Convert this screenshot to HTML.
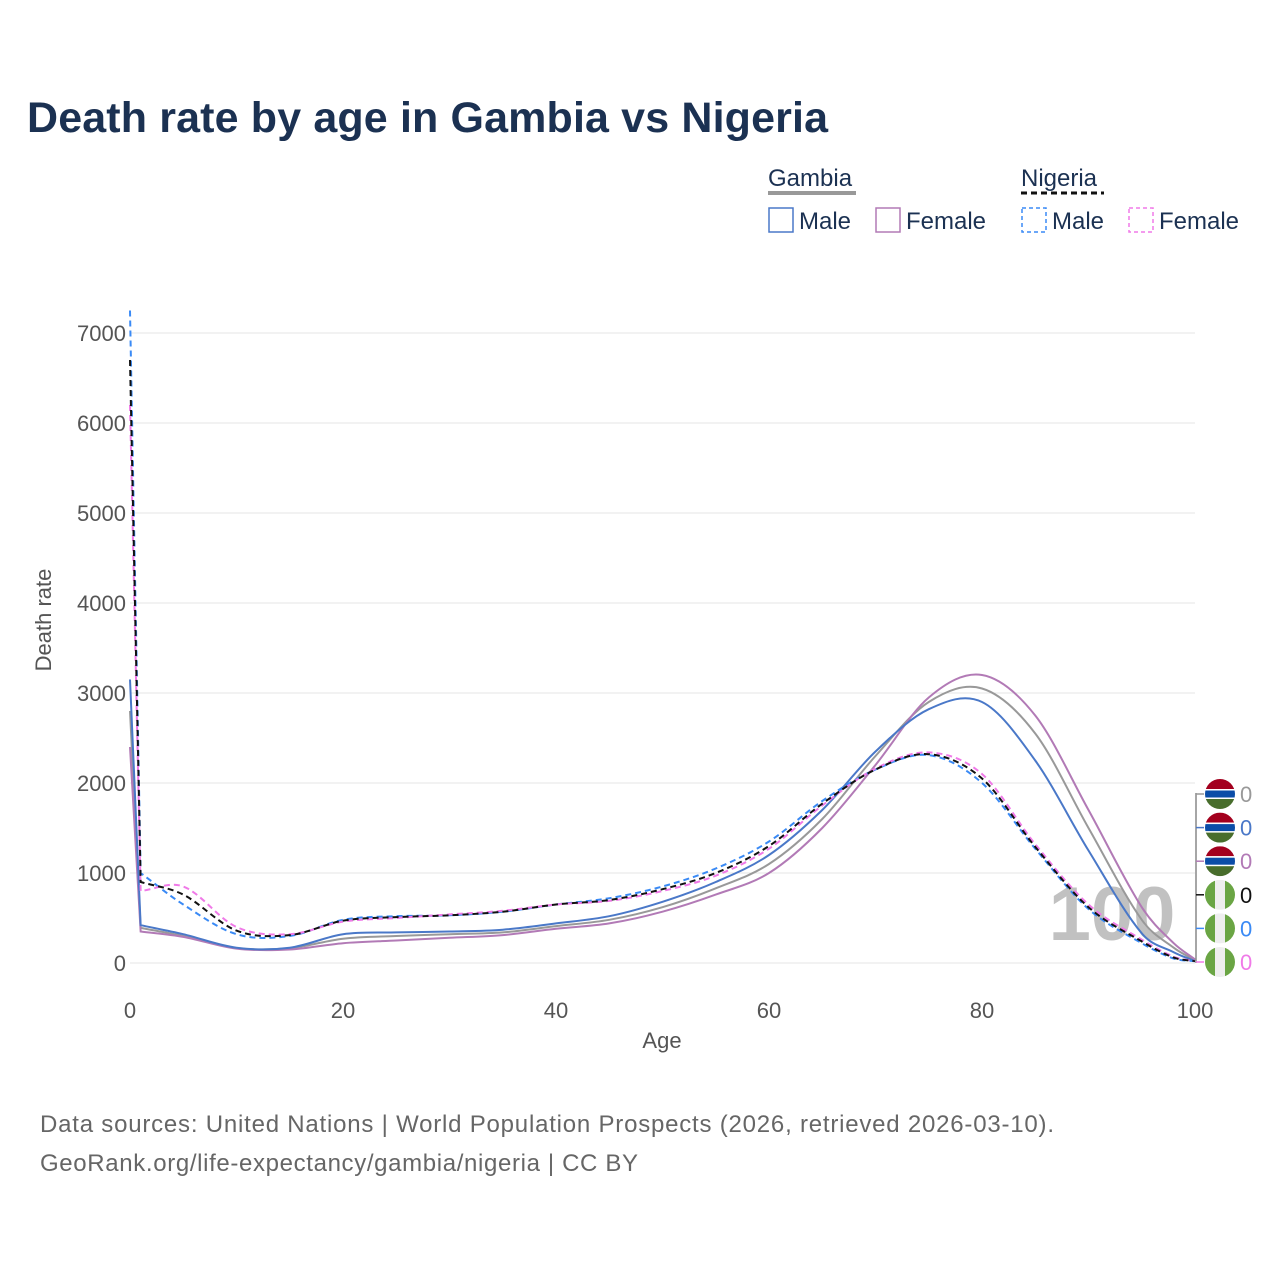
<!DOCTYPE html>
<html><head><meta charset="utf-8"><style>
body{margin:0;background:#fff;}
svg text{font-family:"Liberation Sans",sans-serif;}
</style></head><body>
<svg id="c" width="1280" height="1280" xmlns="http://www.w3.org/2000/svg">
<text x="27" y="132" font-size="43" font-weight="bold" fill="#1b3152" textLength="801">Death rate by age in Gambia vs Nigeria</text>
<g>
<text x="768" y="186" font-size="24" fill="#1b3152">Gambia</text>
<line x1="768" y1="193" x2="856" y2="193" stroke="#999" stroke-width="4"/>
<text x="1021" y="186" font-size="24" fill="#1b3152">Nigeria</text>
<line x1="1021" y1="193" x2="1104" y2="193" stroke="#111" stroke-width="3" stroke-dasharray="6,4"/>
<g><rect x="769" y="208" width="24" height="24" fill="none" stroke="#4a78c8" stroke-width="1.5"/><text x="799" y="229" font-size="24" fill="#1b3152">Male</text></g>
<g><rect x="876" y="208" width="24" height="24" fill="none" stroke="#b27ab6" stroke-width="1.5"/><text x="906" y="229" font-size="24" fill="#1b3152">Female</text></g>
<g><rect x="1022" y="208" width="24" height="24" fill="none" stroke="#3a8af5" stroke-width="1.5" stroke-dasharray="4,3"/><text x="1052" y="229" font-size="24" fill="#1b3152">Male</text></g>
<g><rect x="1129" y="208" width="24" height="24" fill="none" stroke="#f07ae8" stroke-width="1.5" stroke-dasharray="4,3"/><text x="1159" y="229" font-size="24" fill="#1b3152">Female</text></g>
</g>
<g id="grid"></g>
<text x="1112" y="940" font-size="76" font-weight="bold" fill="#bbb" text-anchor="middle" opacity="0.9">100</text>
<g id="series"></g>
<g id="ends"></g>
<text x="51" y="620" font-size="22" fill="#555" text-anchor="middle" transform="rotate(-90 51 620)">Death rate</text>
<text x="662" y="1048" font-size="22" fill="#555" text-anchor="middle">Age</text>
<text x="40" y="1132" font-size="24" fill="#666" textLength="1014">Data sources: United Nations | World Population Prospects (2026, retrieved 2026-03-10).</text>
<text x="40" y="1171" font-size="24" fill="#666" textLength="598">GeoRank.org/life-expectancy/gambia/nigeria | CC BY</text>
</svg>
<script>
const ages=[0,1,5,10,15,20,25,30,35,40,45,50,55,60,65,70,75,80,85,90,95,98,100];
const gambiaMale=[3150,420,320,170,170,320,340,350,370,440,520,680,900,1200,1700,2350,2820,2900,2250,1250,330,120,20];
const gambiaTotal=[2800,390,300,165,165,270,300,320,340,410,480,620,830,1100,1600,2300,2900,3050,2550,1500,480,170,30];
const gambiaFemale=[2400,350,290,160,150,220,250,280,310,380,440,570,760,1000,1500,2200,2950,3200,2750,1700,620,220,40];
const nigeriaMale=[7250,1000,650,320,300,480,520,530,570,650,720,850,1050,1350,1800,2150,2310,2000,1270,600,220,50,20];
const nigeriaTotal=[6700,900,760,360,310,470,510,530,570,650,700,820,1000,1300,1770,2150,2320,2050,1290,620,240,60,20];
const nigeriaFemale=[6200,800,850,400,320,460,500,540,580,650,690,800,970,1270,1750,2160,2340,2100,1320,650,260,70,20];
const yTicks=[0,1000,2000,3000,4000,5000,6000,7000];
const xTicks=[0,20,40,60,80,100];
const X=a=>130+a*10.65, Y=v=>963-v*0.09;
const NS="http://www.w3.org/2000/svg";
function mk(t,attrs,parent){const e=document.createElementNS(NS,t);for(const k in attrs)e.setAttribute(k,attrs[k]);parent.appendChild(e);return e;}
const grid=document.getElementById('grid');
yTicks.forEach(v=>{
 const l=mk('line',{x1:130,x2:1195,y1:Y(v),y2:Y(v),stroke:'#e6e6e6','stroke-width':1},grid);
 
 
 const t=mk('text',{x:126,y:Y(v)+8,'font-size':22,fill:'#555','text-anchor':'end'},grid);t.textContent=v;
 
 
});
xTicks.forEach(v=>{
 const t=mk('text',{x:X(v),y:1018,'font-size':22,fill:'#555','text-anchor':'middle'},grid);t.textContent=v;
 
 
});
function path(vals){
 const p=ages.map((a,i)=>[X(a),Y(vals[i])]);
 let d=`M${p[0][0]},${p[0][1]} L${p[1][0]},${p[1][1]}`;
 for(let i=1;i<p.length-1;i++){
  const p0=p[Math.max(1,i-1)],p1=p[i],p2=p[i+1],p3=p[Math.min(p.length-1,i+2)];
  const k1=(p2[0]-p1[0])/(p2[0]-p0[0]||1)/3, k2=(p2[0]-p1[0])/(p3[0]-p1[0]||1)/3;
  const c1=[p1[0]+(p2[0]-p0[0])*k1,p1[1]+(p2[1]-p0[1])*k1],c2=[p2[0]-(p3[0]-p1[0])*k2,p2[1]-(p3[1]-p1[1])*k2];
  d+=` C${c1[0]},${c1[1]} ${c2[0]},${c2[1]} ${p2[0]},${p2[1]}`;
 }
 return d;
}
const ser=document.getElementById('series');
const defs=[
 ['gambia-total',gambiaTotal,'#999',null],
 ['gambia-female',gambiaFemale,'#b27ab6',null],
 ['gambia-male',gambiaMale,'#4a78c8',null],
 ['nigeria-male',nigeriaMale,'#3a8af5','6,4'],
 ['nigeria-female',nigeriaFemale,'#f07ae8','6,4'],
 ['nigeria-total',nigeriaTotal,'#111','6,4']];
defs.forEach(([n,v,c,da])=>{
 const e=mk('path',{d:path(v),fill:'none',stroke:c,'stroke-width':2},ser);
 if(da)e.setAttribute('stroke-dasharray',da);
 
 
});
const ends=document.getElementById('ends');
mk('line',{x1:1196,x2:1196,y1:793,y2:963,stroke:'#888','stroke-width':1.5},ends);
const endDefs=[['gambia-total','#999','g'],['gambia-male','#4a78c8','g'],['gambia-female','#b27ab6','g'],['nigeria-total','#111','n'],['nigeria-male','#3a8af5','n'],['nigeria-female','#f07ae8','n']];
endDefs.forEach(([n,c,f],i)=>{
 const y=794+i*33.6;
 mk('line',{x1:1196,x2:1204,y1:y,y2:y,stroke:c,'stroke-width':1.5},ends);
 const g=mk('g',{},ends);
 
 
 const cx=1220,r=15,id='cl'+i;
 const cp=mk('clipPath',{id:id},g);mk('circle',{cx:cx,cy:y,r:r},cp);
 const gg=mk('g',{'clip-path':`url(#${id})`},g);
 if(f==='g'){
  mk('rect',{x:cx-r,y:y-r,width:30,height:10,fill:'#a3001e'},gg);
  mk('rect',{x:cx-r,y:y-5,width:30,height:10,fill:'#fff'},gg);
  mk('rect',{x:cx-r,y:y-3.5,width:30,height:7,fill:'#0b4da8'},gg);
  mk('rect',{x:cx-r,y:y+5,width:30,height:10,fill:'#486d2c'},gg);
 }else{
  mk('rect',{x:cx-r,y:y-r,width:10,height:30,fill:'#6aa544'},gg);
  mk('rect',{x:cx-5,y:y-r,width:10,height:30,fill:'#eee'},gg);
  mk('rect',{x:cx+5,y:y-r,width:10,height:30,fill:'#6aa544'},gg);
 }
 const t=mk('text',{x:1240,y:y+8,'font-size':22,fill:c},ends);t.textContent='0';
 
 
});
</script>
</body></html>
